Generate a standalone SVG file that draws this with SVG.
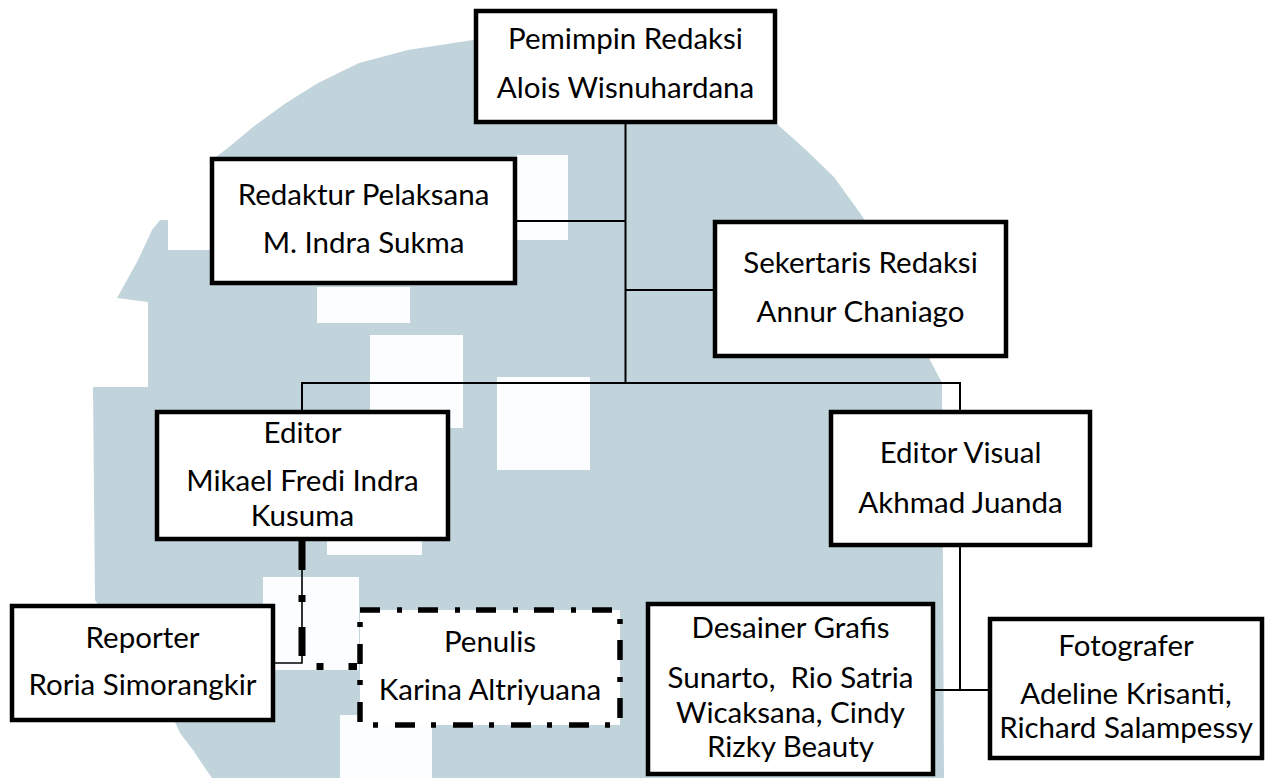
<svg xmlns="http://www.w3.org/2000/svg" width="1271" height="778" viewBox="0 0 1271 778">
<style>
.box{fill:#fff;stroke:#000;stroke-width:4.5}
.dbox{fill:#fff;stroke:#000;stroke-width:5.5;stroke-dasharray:20 17 5 16}
.t{font-family:Lato,"Open Sans",sans-serif;font-size:29.5px;fill:#000;text-anchor:middle}
.ln{fill:none;stroke:#000;stroke-width:2}
.thin{fill:none;stroke:#000;stroke-width:1.6}
.dd{fill:none;stroke:#000;stroke-width:7;stroke-dasharray:29 25 7 25}
.wm{fill:#c1d4db}
.wh{fill:#fbfdfe}
</style>
<rect width="1271" height="778" fill="#fff"/>
<g id="watermark">
<path class="wm" d="M473 40 L600 30 L700 60 L760 108 L777 124 L806 150 L834 177 L860 213 L890 260 L915 305 L930 360 L942 383 L944 778 L212 778 L205 768 L193 750 L180 733 L175 722 L95 600 L93 387 L148 387 L148 302 L117 298 L127 280 L137 262 L145 245 L152 230 L160 220 L168 220 L168 250 L212 250 L212 160 L229 147 L253 127 L286 103 L318 83 L359 63 L408 50 Z"/>
<rect class="wh" x="517" y="155" width="51" height="85"/>
<rect class="wh" x="317" y="287" width="93" height="36"/>
<rect class="wh" x="370" y="335" width="93" height="93"/>
<rect class="wh" x="497" y="377" width="93" height="93"/>
<rect class="wh" x="327" y="462" width="95" height="93"/>
<rect class="wh" x="263" y="577" width="96" height="93"/>
<rect class="wh" x="340" y="715" width="92" height="63"/>
</g>
<g id="connectors">
<path class="ln" d="M625.5 124 V383"/>
<path class="ln" d="M517 221 H625.5"/>
<path class="ln" d="M625.5 290 H713"/>
<path class="ln" d="M302 410 V383 H960 V410"/>
<path class="ln" d="M960 547 V690"/>
<path class="ln" d="M935 690 H988"/>
<path class="thin" d="M302 541 V663 H275"/>
<path class="dd" d="M302 541 V666.5 H357"/>
</g>
<g id="pemimpin">
<rect class="box" x="476" y="11" width="299" height="111"/>
<text class="t" x="625.5" y="49">Pemimpin Redaksi</text>
<text class="t" x="625.5" y="98">Alois Wisnuhardana</text>
</g>
<g id="redaktur">
<rect class="box" x="212" y="159" width="303" height="124"/>
<text class="t" x="363.5" y="205">Redaktur Pelaksana</text>
<text class="t" x="363.5" y="253">M. Indra Sukma</text>
</g>
<g id="sekertaris">
<rect class="box" x="715" y="222" width="291" height="134"/>
<text class="t" x="860.5" y="273">Sekertaris Redaksi</text>
<text class="t" x="860.5" y="322">Annur Chaniago</text>
</g>
<g id="editor">
<rect class="box" x="157" y="412" width="291" height="127"/>
<text class="t" x="302.5" y="443">Editor</text>
<text class="t" x="302.5" y="491">Mikael Fredi Indra</text>
<text class="t" x="302.5" y="526">Kusuma</text>
</g>
<g id="editor-visual">
<rect class="box" x="831" y="412" width="259" height="133"/>
<text class="t" x="960.5" y="463">Editor Visual</text>
<text class="t" x="960.5" y="513">Akhmad Juanda</text>
</g>
<g id="reporter">
<rect class="box" x="12" y="606" width="261" height="114"/>
<text class="t" x="142.5" y="648">Reporter</text>
<text class="t" x="142.5" y="695">Roria Simorangkir</text>
</g>
<g id="penulis">
<rect class="dbox" x="360" y="610" width="260" height="115"/>
<text class="t" x="490" y="652">Penulis</text>
<text class="t" x="490" y="700">Karina Altriyuana</text>
</g>
<g id="desainer">
<rect class="box" x="648" y="604" width="285" height="170"/>
<text class="t" x="790.5" y="638">Desainer Grafis</text>
<text class="t" x="790.5" y="688" xml:space="preserve">Sunarto,  Rio Satria</text>
<text class="t" x="790.5" y="723">Wicaksana, Cindy</text>
<text class="t" x="790.5" y="757">Rizky Beauty</text>
</g>
<g id="fotografer">
<rect class="box" x="990" y="619" width="272" height="139"/>
<text class="t" x="1126" y="656">Fotografer</text>
<text class="t" x="1126" y="704">Adeline Krisanti,</text>
<text class="t" x="1126" y="738">Richard Salampessy</text>
</g>
</svg>
